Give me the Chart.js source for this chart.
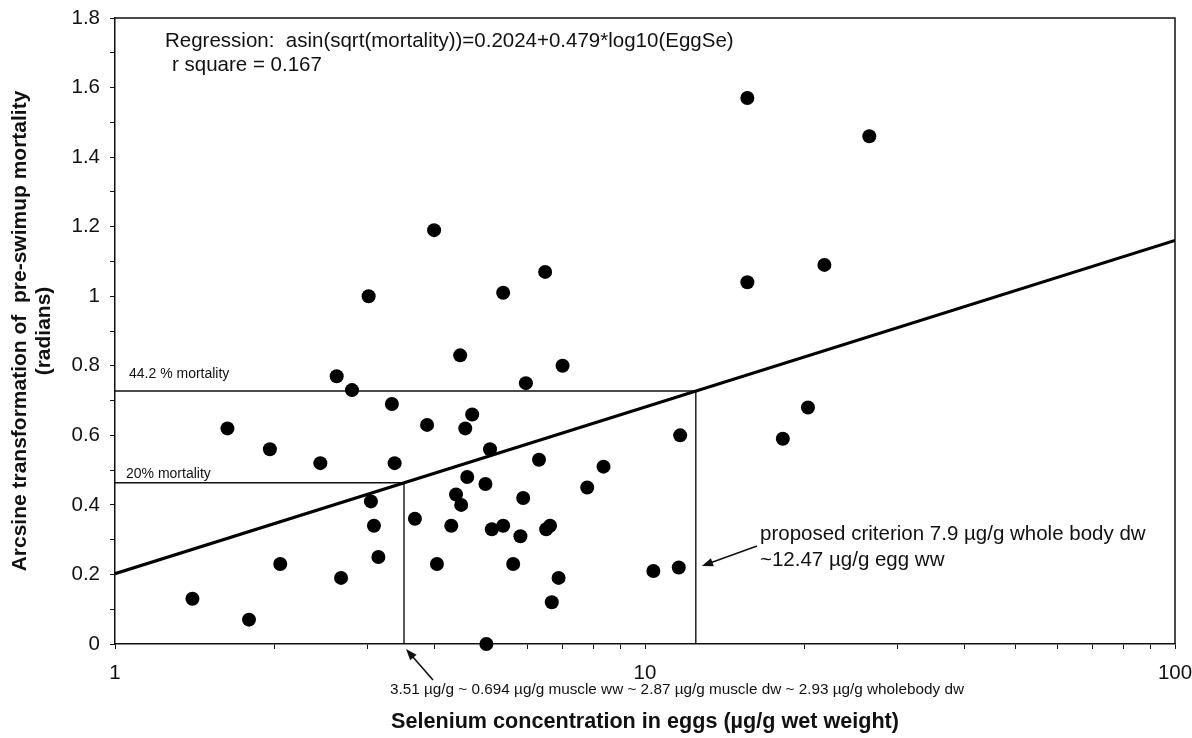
<!DOCTYPE html>
<html>
<head>
<meta charset="utf-8">
<script src="https://cdn.jsdelivr.net/npm/chart.js@4/dist/chart.umd.min.js"></script>
<style>
  html, body { margin: 0; padding: 0; background: #fff; }
  #wrap { width: 1192px; height: 738px; position: relative; }
</style>
</head>
<body>
<div id="wrap"><canvas id="c" width="1192" height="738"></canvas></div>
<script>
// Egg selenium (µg/g ww) against arcsine-transformed pre-swimup mortality (radians)
const eggSe = [
  1.40, 1.79, 1.63, 1.96, 2.05, 2.44, 2.62, 2.67, 2.80, 3.01,
  3.33, 3.37, 3.04, 3.08, 3.14, 3.68, 3.88, 4.00, 4.05, 4.31,
  4.40, 4.48, 4.50, 4.58, 4.62, 4.72, 5.10, 5.00, 6.31, 5.89,
  7.78, 8.35, 5.14, 5.40, 5.82, 6.51, 6.62, 5.64, 6.87, 6.67,
  5.02, 5.40, 6.48, 6.99, 5.96, 15.6, 26.5, 21.8, 15.6, 20.3,
  18.2, 11.65, 10.37, 11.58
];
const arcsineMortality = [
  0.13, 0.07, 0.62, 0.56, 0.23, 0.52, 0.77, 0.19, 0.73, 1.00,
  0.69, 0.52, 0.41, 0.34, 0.25, 0.36, 0.63, 1.19, 0.23, 0.34,
  0.43, 0.83, 0.40, 0.62, 0.48, 0.66, 0.56, 0.46, 0.53, 0.42,
  0.45, 0.51, 0.33, 0.34, 0.31, 0.33, 0.34, 0.23, 0.19, 0.12,
  0.00, 1.01, 1.07, 0.80, 0.75, 1.57, 1.46, 1.09, 1.04, 0.68,
  0.59, 0.60, 0.21, 0.22
];

// Fitted regression: asin(sqrt(mortality)) = a + b*log10(EggSe)
const regIntercept = 0.2024;
const regSlope = 0.479;
const regRange = [1, 100];

// Mortality levels and the egg concentrations where the fit reaches them
const mortalityLevels = [0.442, 0.20];
const levelEggSe = [12.47, 3.51];

const xTickLabels = [1, 10, 100];
const yTickLabels = [0, 0.2, 0.4, 0.6, 0.8, 1, 1.2, 1.4, 1.6, 1.8];

const FONT = '"Liberation Sans", Arial, sans-serif';

const points = eggSe.map((x, i) => ({ x: x, y: arcsineMortality[i] }));
const regLine = regRange.map(x => ({ x: x, y: regIntercept + regSlope * Math.log10(x) }));
const levelLines = mortalityLevels.map((m, i) => {
  const y = Math.asin(Math.sqrt(m));
  return [{ x: 1, y: y }, { x: levelEggSe[i], y: y }, { x: levelEggSe[i], y: 0 }];
});

function arrow(ctx, x0, y0, x1, y1) {
  const ang = Math.atan2(y1 - y0, x1 - x0);
  const L = 12, W = 0.36;
  ctx.beginPath();
  ctx.moveTo(x0, y0);
  ctx.lineTo(x1 - Math.cos(ang) * L * 0.6, y1 - Math.sin(ang) * L * 0.6);
  ctx.stroke();
  ctx.beginPath();
  ctx.moveTo(x1, y1);
  ctx.lineTo(x1 - L * Math.cos(ang - W), y1 - L * Math.sin(ang - W));
  ctx.lineTo(x1 - L * Math.cos(ang + W), y1 - L * Math.sin(ang + W));
  ctx.closePath();
  ctx.fill();
}

const framePlugin = {
  id: 'frame',
  beforeDatasetsDraw(chart) {
    const { ctx, chartArea: a } = chart;
    ctx.save();
    ctx.strokeStyle = '#111';
    ctx.lineWidth = 1.5;
    ctx.beginPath();
    ctx.moveTo(a.left, a.top);
    ctx.lineTo(a.right, a.top);
    ctx.lineTo(a.right, a.bottom);
    ctx.stroke();
    ctx.restore();
  }
};

const notesPlugin = {
  id: 'notes',
  afterDatasetsDraw(chart) {
    const { ctx, scales } = chart;
    const X = v => scales.x.getPixelForValue(v);
    const Y = v => scales.y.getPixelForValue(v);
    ctx.save();
    ctx.fillStyle = '#111';
    ctx.strokeStyle = '#111';
    ctx.textBaseline = 'middle';
    ctx.textAlign = 'left';

    ctx.font = '20.5px ' + FONT;
    ctx.fillText('Regression:  asin(sqrt(mortality))=0.2024+0.479*log10(EggSe)', 165, 41);
    ctx.fillText('r square = 0.167', 172, 65);

    ctx.font = '14px ' + FONT;
    const y44 = Y(Math.asin(Math.sqrt(mortalityLevels[0])));
    const y20 = Y(Math.asin(Math.sqrt(mortalityLevels[1])));
    ctx.fillText('44.2 % mortality', 129, y44 - 17);
    ctx.fillText('20% mortality', 126, y20 - 9);

    ctx.font = '20.5px ' + FONT;
    ctx.fillText('proposed criterion 7.9 \u00b5g/g whole body dw', 760, 534);
    ctx.fillText('~12.47 \u00b5g/g egg ww', 760, 560);

    ctx.lineWidth = 1.6;
    arrow(ctx, 757, 546, X(levelEggSe[0]) + 6, 566);

    ctx.font = '15.3px ' + FONT;
    ctx.fillText('3.51 \u00b5g/g ~ 0.694 \u00b5g/g muscle ww ~ 2.87 \u00b5g/g muscle dw ~ 2.93 \u00b5g/g wholebody dw', 390, 690);
    arrow(ctx, 433, 680, X(levelEggSe[1]) + 2, Y(0) + 5);
    ctx.restore();
  }
};

new Chart(document.getElementById('c'), {
  type: 'scatter',
  data: {
    datasets: [
      {
        label: 'Eggs',
        data: points,
        pointRadius: 7,
        pointHoverRadius: 7,
        pointBackgroundColor: '#000',
        pointBorderColor: '#000',
        pointBorderWidth: 0,
        clip: false,
        order: 1
      },
      {
        type: 'line',
        label: 'Regression',
        data: regLine,
        borderColor: '#000',
        borderWidth: 3.2,
        pointRadius: 0,
        fill: false,
        order: 2
      },
      {
        type: 'line',
        label: '44.2 % mortality',
        data: levelLines[0],
        borderColor: '#111',
        borderWidth: 1.4,
        pointRadius: 0,
        fill: false,
        tension: 0,
        order: 3
      },
      {
        type: 'line',
        label: '20% mortality',
        data: levelLines[1],
        borderColor: '#111',
        borderWidth: 1.4,
        pointRadius: 0,
        fill: false,
        tension: 0,
        order: 3
      }
    ]
  },
  options: {
    responsive: false,
    animation: false,
    events: [],
    layout: { padding: { left: 0, right: 17, top: 18, bottom: 0 } },
    plugins: {
      legend: { display: false },
      tooltip: { enabled: false }
    },
    scales: {
      x: {
        type: 'logarithmic',
        min: 1,
        max: 100,
        afterBuildTicks(scale) {
          const t = [];
          for (let d = 1; d < 100; d *= 10) {
            for (let k = 1; k < 10; k++) t.push({ value: k * d });
          }
          t.push({ value: 100 });
          scale.ticks = t;
        },
        afterFit(scale) {
          scale.height = 94;
          scale.paddingLeft = 0;
          scale.paddingRight = 0;
        },
        ticks: {
          autoSkip: false,
          maxRotation: 0,
          color: '#111',
          padding: 12,
          font: { family: FONT, size: 20.5 },
          callback(v) { return xTickLabels.includes(v) ? String(v) : ''; }
        },
        grid: {
          drawOnChartArea: false,
          drawTicks: true,
          tickLength: 5,
          color: '#111',
          lineWidth: 1
        },
        border: { display: true, color: '#111', width: 1.5 },
        title: {
          display: true,
          text: 'Selenium concentration in eggs (\u00b5g/g wet weight)',
          color: '#111',
          font: { family: FONT, size: 21.6, weight: 'bold' },
          padding: { top: 10, bottom: 3 }
        }
      },
      y: {
        min: 0,
        max: 1.8,
        afterBuildTicks(scale) {
          const t = [];
          for (let i = 0; i <= 18; i++) t.push({ value: i / 10 });
          scale.ticks = t;
        },
        afterFit(scale) {
          scale.width = 115;
          scale.paddingTop = 0;
          scale.paddingBottom = 0;
        },
        ticks: {
          autoSkip: false,
          color: '#111',
          padding: 10,
          font: { family: FONT, size: 20.5 },
          callback(v) {
            const r = Math.round(v * 10) / 10;
            return yTickLabels.some(t => Math.abs(t - r) < 1e-9) ? String(r) : '';
          }
        },
        grid: {
          drawOnChartArea: false,
          drawTicks: true,
          tickLength: 5,
          color: '#111',
          lineWidth: 1
        },
        border: { display: true, color: '#111', width: 1.5 },
        title: {
          display: true,
          text: ['Arcsine transformation of  pre-swimup mortality', '(radians)'],
          color: '#111',
          font: { family: FONT, size: 21, weight: 'bold', lineHeight: 1.15 },
          padding: { top: 8, bottom: 4 }
        }
      }
    }
  },
  plugins: [framePlugin, notesPlugin]
});
</script>
</body>
</html>
